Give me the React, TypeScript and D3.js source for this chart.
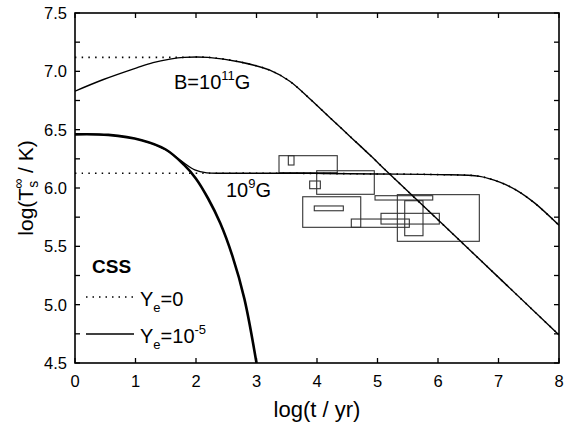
import React from "react";
import * as d3 from "d3";

// B = 1e11 G, Ye = 1e-5 (solid)
const b11T = [0, 0.47, 1.02, 1.29, 1.57, 1.8, 2.2, 2.73, 3.22, 3.55, 3.88, 4.21, 4.55, 4.88, 5.2, 6.36, 8.0];
const b11Y = [6.83, 6.93, 7.03, 7.075, 7.105, 7.12, 7.12, 7.08, 7.01, 6.915, 6.765, 6.605, 6.44, 6.28, 6.12, 5.55, 4.74];
// B = 1e11 G, Ye = 0 (dotted)
const b11ZeroT = [0, 0.5, 1.0, 1.5, 1.8, 2.2, 2.73, 3.22, 3.55, 3.88, 4.21, 4.55, 4.88, 5.2, 6.36, 8.0];
const b11ZeroY = [7.12, 7.12, 7.12, 7.12, 7.12, 7.12, 7.08, 7.01, 6.915, 6.765, 6.605, 6.44, 6.28, 6.12, 5.55, 4.74];
// B = 1e9 G, Ye = 1e-5 (solid)
const b9T = [0, 0.55, 1.1, 1.49, 1.76, 1.98, 2.18, 2.5, 3, 4, 5, 6, 6.69, 7.02, 7.3, 7.6, 8.0];
const b9Y = [6.46, 6.455, 6.41, 6.33, 6.23, 6.155, 6.13, 6.127, 6.127, 6.125, 6.12, 6.115, 6.1, 6.05, 5.98, 5.87, 5.68];
// B = 1e9 G, Ye = 0 (dotted)
const b9ZeroT = [0, 1, 2, 2.18, 2.5, 3, 4, 5, 6, 6.69, 7.02, 7.3, 7.6, 8.0];
const b9ZeroY = [6.127, 6.127, 6.127, 6.127, 6.127, 6.127, 6.125, 6.12, 6.115, 6.1, 6.05, 5.98, 5.87, 5.68];
// steep curve (thick)
const steepT = [0, 0.55, 1.1, 1.5, 1.8, 2.0, 2.2, 2.4, 2.6, 2.8, 3.0];
const steepY = [6.46, 6.455, 6.41, 6.33, 6.2, 6.08, 5.91, 5.7, 5.42, 5.05, 4.5];

// observational boxes: [tMin, tMax, yMin, yMax]
const boxT0 = [3.372, 3.526, 3.995, 3.879, 4.959, 5.328, 3.764, 3.955, 4.567, 5.058, 5.45];
const boxT1 = [4.335, 3.62, 4.947, 4.055, 5.913, 6.683, 4.723, 4.435, 5.526, 6.022, 5.752];
const boxY0 = [6.131, 6.197, 5.946, 5.994, 5.897, 5.543, 5.663, 5.805, 5.663, 5.691, 5.591];
const boxY1 = [6.277, 6.277, 6.148, 6.06, 5.934, 5.943, 5.925, 5.846, 5.734, 5.783, 5.891];

const xTicks = [0, 1, 2, 3, 4, 5, 6, 7, 8];
const yTicks = [4.5, 4.75, 5.0, 5.25, 5.5, 5.75, 6.0, 6.25, 6.5, 6.75, 7.0, 7.25, 7.5];
const yLabels = [4.5, 5.0, 5.5, 6.0, 6.5, 7.0, 7.5];

const W = 564, H = 431;
const L = 75, R = 559, T = 13, B = 363;
const FONT = "Arial, 'Liberation Sans', sans-serif";

export default function App() {
  const x = d3.scaleLinear().domain([0, 8]).range([L, R]);
  const y = d3.scaleLinear().domain([4.5, 7.5]).range([B, T]);
  const line = (ts: number[], ys: number[]) =>
    d3.line<number>().x((_, i) => x(ts[i])).y((d) => y(d)).curve(d3.curveCatmullRom.alpha(0.5))(ys) || "";
  const tickLen = 5;
  return (
    <svg width={W} height={H} style={{ position: "absolute", left: 0, top: 0, background: "#fff" }} fontFamily={FONT}>
      <defs>
        <clipPath id="plot">
          <rect x={L} y={T} width={R - L} height={B - T} />
        </clipPath>
      </defs>
      <g clipPath="url(#plot)" fill="none">
        {boxT0.map((t0, i) => (
          <rect key={i} x={x(t0)} y={y(boxY1[i])} width={x(boxT1[i]) - x(t0)} height={y(boxY0[i]) - y(boxY1[i])}
            stroke="#333" strokeWidth={1.1} fill="none" />
        ))}
        <path d={line(b11T, b11Y)} stroke="#000" strokeWidth={1.4} />
        <path d={line(b9T, b9Y)} stroke="#000" strokeWidth={1.4} />
        <path d={line(steepT, steepY)} stroke="#000" strokeWidth={2.6} />
        <path d={line(b11ZeroT, b11ZeroY)} stroke="#000" strokeWidth={1.6} strokeDasharray="1.5 5.2" />
        <path d={line(b9ZeroT, b9ZeroY)} stroke="#000" strokeWidth={1.6} strokeDasharray="1.5 5.2" />
      </g>
      {/* frame */}
      <rect x={L} y={T} width={R - L} height={B - T} fill="none" stroke="#000" strokeWidth={1.6} />
      {/* ticks */}
      {xTicks.map((t) => (
        <g key={"x" + t}>
          <line x1={x(t)} x2={x(t)} y1={B} y2={B - tickLen} stroke="#000" strokeWidth={1.3} />
          <line x1={x(t)} x2={x(t)} y1={T} y2={T + tickLen} stroke="#000" strokeWidth={1.3} />
          <text x={x(t)} y={387} fontSize={16.5} textAnchor="middle">{t}</text>
        </g>
      ))}
      {yTicks.map((v) => (
        <g key={"y" + v}>
          <line x1={L} x2={L + tickLen} y1={y(v)} y2={y(v)} stroke="#000" strokeWidth={1.3} />
          <line x1={R} x2={R - tickLen} y1={y(v)} y2={y(v)} stroke="#000" strokeWidth={1.3} />
        </g>
      ))}
      {yLabels.map((v) => (
        <text key={"yl" + v} x={67} y={y(v) + 6} fontSize={16.5} textAnchor="end">{v.toFixed(1)}</text>
      ))}
      {/* axis titles */}
      <text x={(L + R) / 2} y={417} fontSize={22} textAnchor="middle">log(t / yr)</text>
      <text transform={`translate(33,188) rotate(-90)`} fontSize={21} textAnchor="middle">
        log(T<tspan fontSize={14} dy={5}>s</tspan><tspan fontSize={14} dx={-8} dy={-15}>∞</tspan><tspan dy={10}> / K)</tspan>
      </text>
      {/* annotations */}
      <text x={174} y={89} fontSize={20}>
        B=10<tspan fontSize={13} dy={-9}>11</tspan><tspan dy={9}>G</tspan>
      </text>
      <text x={226} y={197} fontSize={20}>
        10<tspan fontSize={13} dy={-9}>9</tspan><tspan dy={9}>G</tspan>
      </text>
      {/* legend */}
      <text x={92} y={273} fontSize={19} fontWeight="bold">CSS</text>
      <line x1={86} x2={135} y1={297} y2={297} stroke="#000" strokeWidth={1.5} strokeDasharray="1.5 5" />
      <text x={140} y={306} fontSize={20}>
        Y<tspan fontSize={13} dy={6}>e</tspan><tspan dy={-6}>=0</tspan>
      </text>
      <line x1={86} x2={134} y1={334} y2={334} stroke="#000" strokeWidth={1.4} />
      <text x={140} y={343} fontSize={20}>
        Y<tspan fontSize={13} dy={6}>e</tspan><tspan dy={-6}>=10</tspan><tspan fontSize={13} dy={-9}>-5</tspan>
      </text>
    </svg>
  );
}
